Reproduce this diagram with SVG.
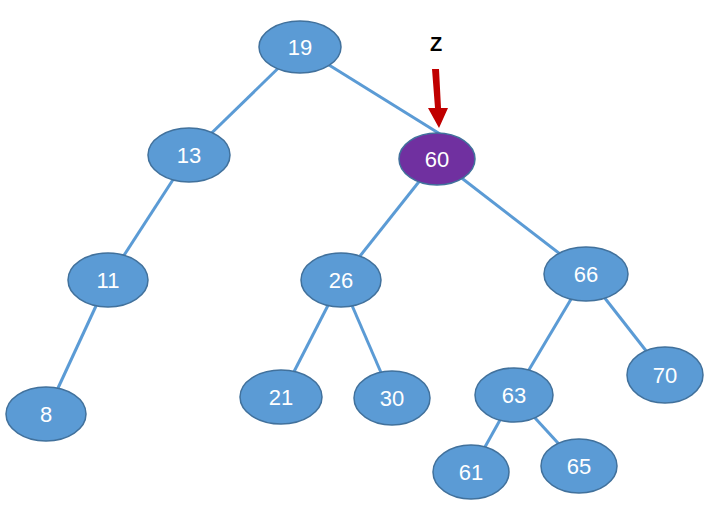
<svg xmlns="http://www.w3.org/2000/svg" width="711" height="511" viewBox="0 0 711 511">
<style>
.n{fill:#5b9bd5;stroke:#41719c;stroke-width:1.5}
.p{fill:#7030a0;stroke:#41719c;stroke-width:1.5}
.t{font-family:"Liberation Sans",Arial,sans-serif;font-size:22px;fill:#fff;text-anchor:middle;dominant-baseline:central}
#edges line{stroke:#5b9bd5;stroke-width:3}
</style>
<rect width="711" height="511" fill="#fff"/>
<g id="edges">
<line x1="300" y1="47" x2="189" y2="155"/>
<line x1="300" y1="47" x2="440" y2="134"/>
<line x1="189" y1="155" x2="108" y2="280"/>
<line x1="108" y1="280" x2="46" y2="414"/>
<line x1="437" y1="159" x2="341" y2="280"/>
<line x1="437" y1="159" x2="586" y2="274"/>
<line x1="341" y1="280" x2="281" y2="397"/>
<line x1="341" y1="280" x2="392" y2="398"/>
<line x1="586" y1="274" x2="514" y2="395"/>
<line x1="586" y1="274" x2="665" y2="375"/>
<line x1="514" y1="395" x2="471" y2="472"/>
<line x1="514" y1="395" x2="579" y2="466"/>
</g>
<g id="n19"><ellipse class="n" cx="300" cy="47" rx="41" ry="26"/><text class="t" x="300" y="47">19</text></g>
<g id="n13"><ellipse class="n" cx="189" cy="155" rx="41" ry="27"/><text class="t" x="189" y="155">13</text></g>
<g id="n60"><ellipse class="p" cx="437" cy="159" rx="38" ry="26"/><text class="t" x="437" y="159">60</text></g>
<g id="n11"><ellipse class="n" cx="108" cy="280" rx="40" ry="27"/><text class="t" x="108" y="280">11</text></g>
<g id="n26"><ellipse class="n" cx="341" cy="280" rx="40" ry="27"/><text class="t" x="341" y="280">26</text></g>
<g id="n66"><ellipse class="n" cx="586" cy="274" rx="42" ry="27"/><text class="t" x="586" y="274">66</text></g>
<g id="n8"><ellipse class="n" cx="46" cy="414" rx="40" ry="27"/><text class="t" x="46" y="414">8</text></g>
<g id="n21"><ellipse class="n" cx="281" cy="397" rx="41" ry="27"/><text class="t" x="281" y="397">21</text></g>
<g id="n30"><ellipse class="n" cx="392" cy="398" rx="38" ry="27"/><text class="t" x="392" y="398">30</text></g>
<g id="n63"><ellipse class="n" cx="514" cy="395" rx="39" ry="27"/><text class="t" x="514" y="395">63</text></g>
<g id="n70"><ellipse class="n" cx="665" cy="375" rx="38" ry="28"/><text class="t" x="665" y="375">70</text></g>
<g id="n61"><ellipse class="n" cx="471" cy="472" rx="38" ry="27"/><text class="t" x="471" y="472">61</text></g>
<g id="n65"><ellipse class="n" cx="579" cy="466" rx="38" ry="27"/><text class="t" x="579" y="466">65</text></g>
<g id="zlabel">
<text x="436" y="44" font-family="'Liberation Sans',Arial,sans-serif" font-size="20" font-weight="bold" text-anchor="middle" dominant-baseline="central">Z</text>
<polygon points="432,69 439,69 441,108 448,108 439,128 428,108 435,108" fill="#c00000"/>
</g>
</svg>
